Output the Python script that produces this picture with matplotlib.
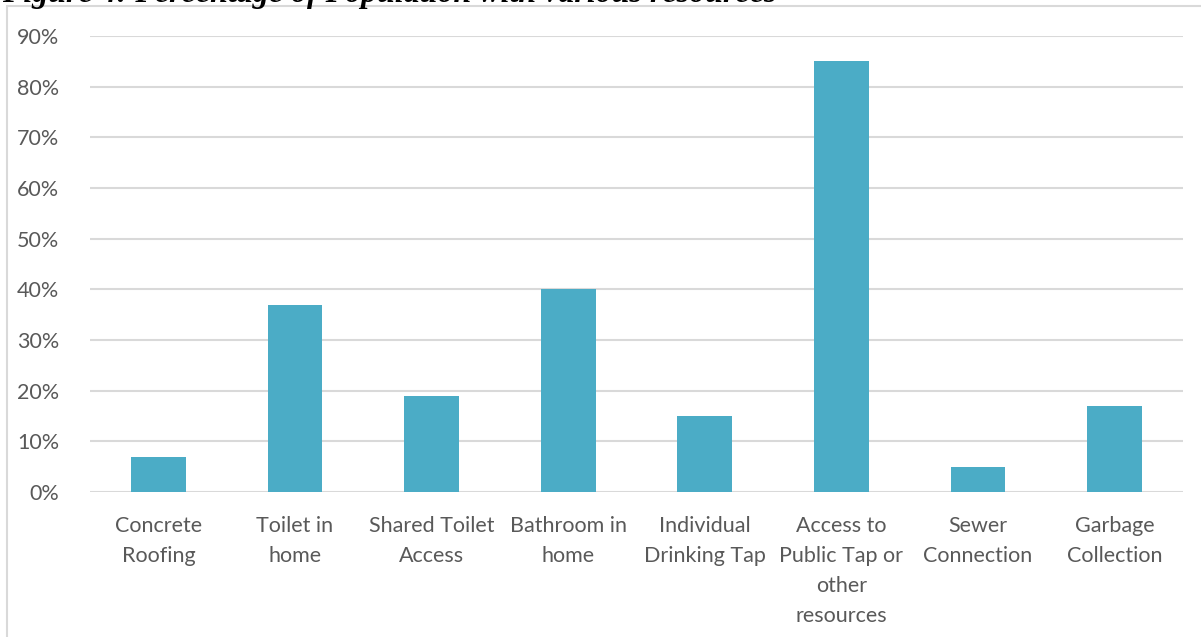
import numpy as np
import matplotlib.pyplot as plt
from matplotlib.patches import Rectangle
from matplotlib.ticker import PercentFormatter

categories = ["Concrete\nRoofing", "Toilet in\nhome", "Shared Toilet\nAccess",
              "Bathroom in\nhome", "Individual\nDrinking Tap",
              "Access to\nPublic Tap or\nother\nresources", "Sewer\nConnection",
              "Garbage\nCollection"]
values = [7, 37, 19, 40, 15, 85, 5, 17]

plt.rcParams['font.family'] = ['Lato', 'DejaVu Sans']

fig = plt.figure(figsize=(12.01, 6.37), dpi=100)
W, H = 1201, 637
ax = fig.add_axes([90 / W, 1 - 492 / H, 1093 / W, 456 / H])

x = np.arange(len(categories))
ax.bar(x, values, width=0.4, color="#4bacc6", zorder=3)

ax.set_ylim(0, 90)
ax.set_xlim(-0.5, len(categories) - 0.5)
ax.set_yticks(np.arange(0, 91, 10))
ax.yaxis.set_major_formatter(PercentFormatter(decimals=0))
ax.set_xticks(x)
ax.set_xticklabels(categories, linespacing=1.63)
ax.grid(axis="y", color="#d9d9d9", linewidth=1.5, zorder=0)
for s in ax.spines.values():
    s.set_visible(False)
ax.tick_params(axis="both", length=0, labelsize=15.5, colors="#595959")
ax.tick_params(axis="x", pad=17)
ax.tick_params(axis="y", pad=22)

# chart frame
fig.patches.append(Rectangle((7 / W, -0.1), 1.2, 1 - 6 / H + 0.1, transform=fig.transFigure,
                             fill=False, edgecolor="#d9d9d9", linewidth=1.5))

# caption, cropped at the top edge
fig.text(2 / W, 1 - 2 / H, "Figure 4: Percentage of Population with various resources",
         family="Liberation Serif", weight="bold", style="italic", fontsize=23,
         va="baseline", ha="left", color="black")

fig.savefig("out.png", dpi=100)
